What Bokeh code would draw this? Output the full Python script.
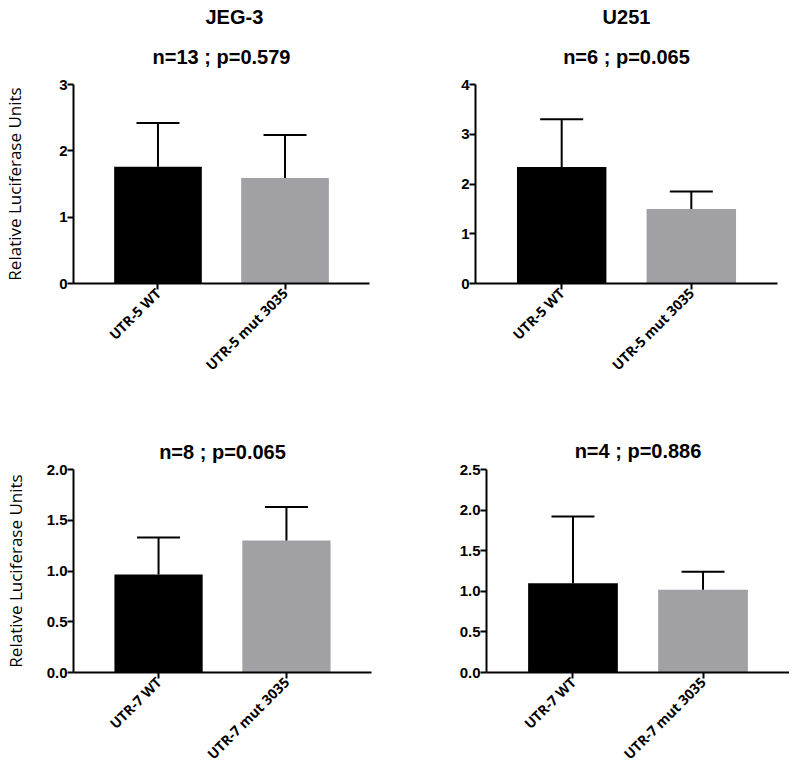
from bokeh.plotting import figure
from bokeh.models import (ColumnDataSource, Range1d, FixedTicker, Whisker, TeeHead,
                          Title, PrintfTickFormatter)
from bokeh.layouts import column, row
from bokeh.embed import file_html
from bokeh.resources import INLINE
import math

# ---------------- data ----------------
cats_5 = ["UTR-5 WT", "UTR-5 mut 3035"]
cats_7 = ["UTR-7 WT", "UTR-7 mut 3035"]

jeg3_utr5_mean = [1.76, 1.59]
jeg3_utr5_sd = [0.66, 0.65]

u251_utr5_mean = [2.34, 1.50]
u251_utr5_sd = [0.96, 0.35]

jeg3_utr7_mean = [0.965, 1.30]
jeg3_utr7_sd = [0.365, 0.33]

u251_utr7_mean = [1.10, 1.02]
u251_utr7_sd = [0.82, 0.22]

bar_colors = ["#000000", "#a1a1a5"]

titles_top = ["JEG-3", "U251"]
subtitles = ["n=13 ; p=0.579", "n=6 ; p=0.065", "n=8 ; p=0.065", "n=4 ; p=0.886"]

yticks_1 = [0, 1, 2, 3]
yticks_2 = [0, 1, 2, 3, 4]
yticks_3 = [0, 0.5, 1.0, 1.5, 2.0]
yticks_4 = [0, 0.5, 1.0, 1.5, 2.0, 2.5]

TITLE_FONT = "Liberation Sans"
CAT_FONT = "Open Sans"


def make_title(text, standoff, align="center", offset=0):
    return Title(text=text, align=align, offset=offset, text_font=TITLE_FONT,
                 text_font_style="bold", text_font_size="20px",
                 text_color="black", standoff=standoff)


def panel(cats, means, sds, yticks, fmt, width, height, bl, br, bt, bb,
          subtitle, sub_standoff, top_title=None, top_standoff=0,
          top_align="center", top_offset=0, ylabel=None, ylabel_standoff=10):
    xs = list(range(len(cats)))
    src = ColumnDataSource(dict(
        x=xs, top=means, upper=[m + s for m, s in zip(means, sds)],
        color=bar_colors[:len(cats)]))
    p = figure(width=width, height=height, output_backend="svg",
               toolbar_location=None,
               x_range=Range1d(-0.665, 1.665),
               y_range=Range1d(yticks[0], yticks[-1]),
               min_border_left=bl, min_border_right=br,
               min_border_top=bt, min_border_bottom=bb)
    p.vbar(x="x", top="top", bottom=0, width=0.69, fill_color="color",
           line_color=None, source=src)
    w = Whisker(source=src, base="x", upper="upper", lower="top",
                line_color="black", line_width=2, level="overlay",
                upper_head=TeeHead(size=43, line_width=2, line_color="black"),
                lower_head=None)
    p.add_layout(w)

    p.xgrid.visible = False
    p.ygrid.visible = False
    p.outline_line_color = None

    xa = p.xaxis[0]
    xa.ticker = FixedTicker(ticks=xs)
    xa.major_label_overrides = {i: c for i, c in zip(xs, cats)}
    xa.major_label_orientation = math.pi / 4
    xa.major_label_text_font = CAT_FONT
    xa.major_label_text_font_style = "bold"
    xa.major_label_text_font_size = "14px"
    xa.major_label_text_color = "black"
    xa.major_label_standoff = 1
    xa.axis_line_width = 2
    xa.major_tick_line_width = 2
    xa.major_tick_out = 6
    xa.major_tick_in = 0
    xa.minor_tick_line_color = None

    ya = p.yaxis[0]
    ya.ticker = FixedTicker(ticks=yticks)
    ya.formatter = PrintfTickFormatter(format=fmt)
    ya.major_label_text_font = TITLE_FONT
    ya.major_label_text_font_style = "bold"
    ya.major_label_text_font_size = "15px"
    ya.major_label_text_color = "black"
    ya.major_label_standoff = 0
    ya.axis_line_width = 2
    ya.major_tick_line_width = 2
    ya.major_tick_out = 6
    ya.major_tick_in = 0
    ya.minor_tick_line_color = None
    if ylabel:
        ya.axis_label = ylabel
        ya.axis_label_text_font = "Open Sans"
        ya.axis_label_text_font_style = "normal"
        ya.axis_label_text_font_size = "17px"
        ya.axis_label_text_color = "black"
        ya.axis_label_standoff = ylabel_standoff

    p.add_layout(make_title(subtitle, sub_standoff), "above")
    if top_title:
        p.add_layout(make_title(top_title, top_standoff, top_align, top_offset), "above")
    return p


ylab = "Relative Luciferase Units"
p1 = panel(cats_5, jeg3_utr5_mean, jeg3_utr5_sd, yticks_1, "%d",
           399, 389, 68, 30, 84, 106, subtitles[0], 33, titles_top[0], 0,
           "left", 132, ylab, 30)
p2 = panel(cats_5, u251_utr5_mean, u251_utr5_sd, yticks_2, "%d",
           390, 389, 76, 12, 84, 106, subtitles[1], 33, titles_top[1], 0)
p3 = panel(cats_7, jeg3_utr7_mean, jeg3_utr7_sd, yticks_3, "%.1f",
           399, 383, 68, 28, 80, 100, subtitles[2], 14, None, 0,
           "center", 0, ylab, 17)
p4 = panel(cats_7, u251_utr7_mean, u251_utr7_sd, yticks_4, "%.1f",
           390, 383, 87, 0, 80, 100, subtitles[3], 16)

layout = column(row(p1, p2), row(p3, p4))
open("out.html", "w").write(file_html(layout, INLINE))
